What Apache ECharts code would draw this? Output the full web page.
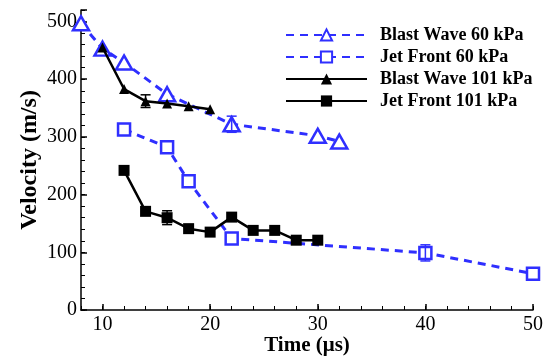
<!DOCTYPE html>
<html><head><meta charset="utf-8">
<script src="https://cdn.jsdelivr.net/npm/echarts@6/dist/echarts.min.js"></script>
<style>html,body{margin:0;padding:0;background:#fff}#c{width:543px;height:356px}</style>
</head><body><div id="c"></div>
<script>
// Data (time in µs, velocity in m/s)
const bw60 = [[8,497],[10,453],[12,429],[16,374],[22,322],[30,302],[32,292]];
const jf60 = [[12,313],[16,282],[18,223],[22,124],[40,99],[50,63]];
const bw101 = [[10,455],[12,383],[14,362],[16,358],[18,353],[20,348]];
const jf101 = [[12,242],[14,171],[16,160],[18,141],[20,135],[22,161],[24,138],[26,138],[28,121],[30,121]];
// error bars: [x, y, halfRange]
const err60 = [[22,322,14],[40,99,14]];
const err101 = [[14,362,11],[16,160,12]];
const seriesNames = ['Blast Wave 60 kPa','Jet Front 60 kPa','Blast Wave 101 kPa','Jet Front 101 kPa'];
const xTicks = [10,20,30,40,50];
const yTicks = [0,100,200,300,400,500];

const BLUE = '#2f2fff';
const serif = '"Liberation Serif","Times New Roman",serif';
const chart = echarts.init(document.getElementById('c'), null, {renderer:'canvas'});

function errSeries(data, color){
  return {
    type:'custom', xAxisIndex:0, yAxisIndex:0, z:5, silent:true,
    data: data,
    renderItem: function(params, api){
      const x = api.value(0), y = api.value(1), e = api.value(2);
      const top = api.coord([x, y+e]), bot = api.coord([x, y-e]);
      const w = 5;
      return {type:'group', children:[
        {type:'line', shape:{x1:top[0],y1:top[1],x2:bot[0],y2:bot[1]}, style:{stroke:color,lineWidth:1.5}},
        {type:'line', shape:{x1:top[0]-w,y1:top[1],x2:top[0]+w,y2:top[1]}, style:{stroke:color,lineWidth:1.5}},
        {type:'line', shape:{x1:bot[0]-w,y1:bot[1],x2:bot[0]+w,y2:bot[1]}, style:{stroke:color,lineWidth:1.5}}
      ]};
    }
  };
}

const axisLine = {show:true, lineStyle:{color:'#000', width:1.5}};
chart.setOption({
  animation:false,
  backgroundColor:'#fff',
  grid:{left:81, right:10, top:10, bottom:46, outerBoundsMode:'none', containLabel:false},
  legend:{
    orient:'vertical', left:285, top:26, padding:0, itemWidth:81, itemHeight:14, itemGap:4,
    data: seriesNames,
    textStyle:{fontFamily:serif, fontWeight:'bold', fontSize:18, color:'#000', padding:[0,0,0,8]}
  },
  xAxis:[{
    type:'value', min:8, max:50,
    name:'Time (\u03bcs)', nameLocation:'middle', nameGap:25, nameMoveOverlap:false,
    nameTextStyle:{fontFamily:serif, fontWeight:'bold', fontSize:21, color:'#000'},
    axisLine: axisLine,
    axisTick:{show:true, inside:true, length:6, customValues:xTicks, lineStyle:{color:'#000', width:1.5}},
    axisLabel:{fontFamily:serif, fontSize:20, color:'#000', margin:5, customValues:xTicks},
    splitLine:{show:false}
  },{
    type:'value', min:8, max:50, interval:2, position:'bottom',
    axisLine:{show:false}, axisLabel:{show:false}, splitLine:{show:false},
    axisTick:{show:true, inside:true, length:4, lineStyle:{color:'#000', width:1}}
  }],
  yAxis:[{
    type:'value', min:0, max:520,
    name:'Velocity (m/s)', nameLocation:'middle', nameGap:39, nameRotate:90, nameMoveOverlap:false,
    nameTextStyle:{fontFamily:serif, fontWeight:'bold', fontSize:24, color:'#000'},
    axisLine: axisLine,
    axisTick:{show:true, inside:true, length:6, customValues:yTicks.concat([520]), lineStyle:{color:'#000', width:1.5}},
    axisLabel:{fontFamily:serif, fontSize:20, color:'#000', margin:4, customValues:yTicks},
    splitLine:{show:false}
  },{
    type:'value', min:0, max:520, interval:20, position:'left',
    axisLine:{show:false}, axisLabel:{show:false}, splitLine:{show:false},
    axisTick:{show:true, inside:true, length:4, lineStyle:{color:'#000', width:1}}
  }],
  series:[
    {name:seriesNames[0], type:'line', data:bw60, symbol:'triangle', symbolSize:[16,14],
     lineStyle:{color:BLUE, width:3, type:[8,6]}, itemStyle:{color:'#fff', borderColor:BLUE, borderWidth:2.5}, z:3},
    {name:seriesNames[1], type:'line', data:jf60, symbol:'rect', symbolSize:12,
     lineStyle:{color:BLUE, width:3, type:[8,6]}, itemStyle:{color:'#fff', borderColor:BLUE, borderWidth:2.5}, z:3},
    {name:seriesNames[2], type:'line', data:bw101, symbol:'triangle', symbolSize:10,
     lineStyle:{color:'#000', width:2.5}, itemStyle:{color:'#000'}, z:4},
    {name:seriesNames[3], type:'line', data:jf101, symbol:'rect', symbolSize:11,
     lineStyle:{color:'#000', width:2.5}, itemStyle:{color:'#000'}, z:4},
    errSeries(err60, BLUE),
    errSeries(err101, '#000')
  ]
});
</script></body></html>
